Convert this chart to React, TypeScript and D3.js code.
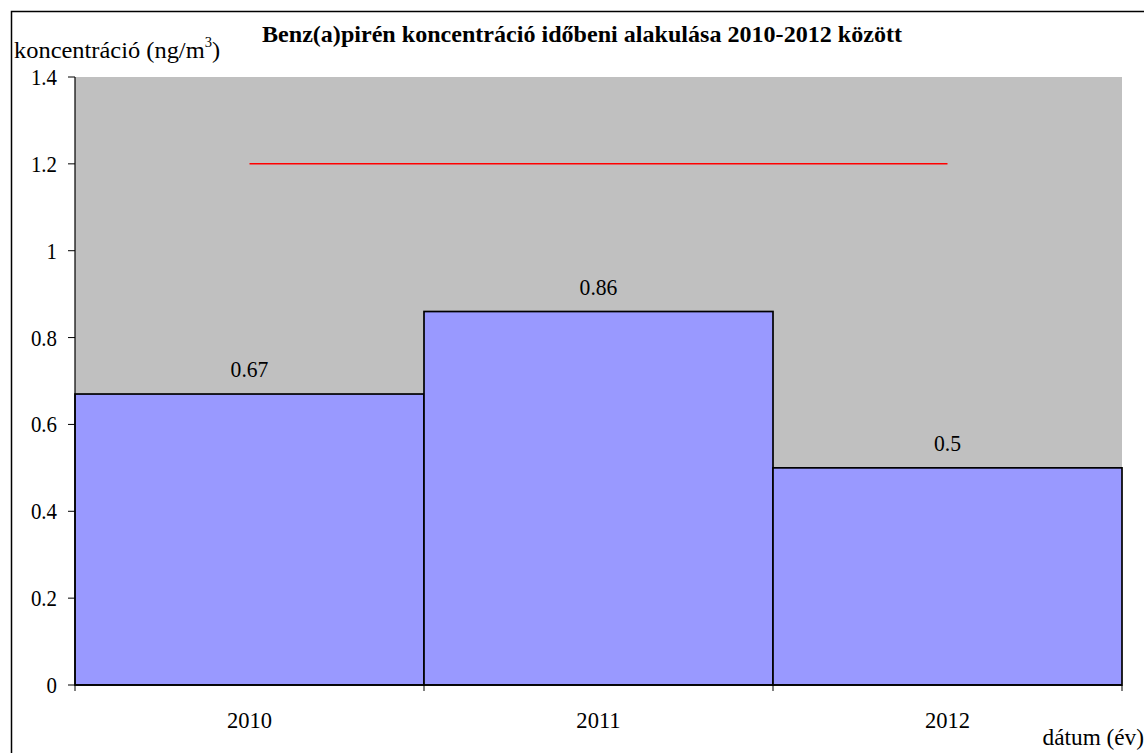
import React from "react";
import * as d3 from "d3";

const categories = ["2010", "2011", "2012"];
const values = [0.67, 0.86, 0.5];
const limitValues = [1.2, 1.2, 1.2];
const yTicks = [0, 0.2, 0.4, 0.6, 0.8, 1, 1.2, 1.4];

const W = 1144;
const H = 753;
const left = 75;
const right = 1122;
const top = 77;
const bottom = 685;
const font = "Liberation Serif";

type TProps = {
  x: number;
  y: number;
  anchor?: "start" | "middle" | "end";
  size?: number;
  sx?: number;
  bold?: boolean;
  children: React.ReactNode;
};

function T({ x, y, anchor = "start", size = 24, sx = 0.9, bold = false, children }: TProps) {
  return (
    <text
      transform={`translate(${x},${y}) scale(${sx},1)`}
      textAnchor={anchor}
      fontSize={size}
      fontWeight={bold ? "bold" : "normal"}
      style={{ fontFamily: font }}
      fill="#000"
    >
      {children}
    </text>
  );
}

export default function App() {
  const x = d3.scaleBand<string>().domain(categories).range([left, right]).padding(0);
  const y = d3.scaleLinear().domain([0, 1.4]).range([bottom, top]);
  const cx = (c: string) => (x(c) as number) + x.bandwidth() / 2;
  const line = d3
    .line<number>()
    .x((_, i) => cx(categories[i]))
    .y((d) => y(d));
  const boundaries = [...categories.map((c) => x(c) as number), right];

  return (
    <div style={{ position: "fixed", left: 0, top: 0 }}>
      <svg width={W} height={H} style={{ display: "block", background: "#fff" }}>
        <rect x={11.5} y={11.5} width={W + 20} height={H + 20} fill="none" stroke="#000" strokeWidth={1.5} />
        <text
          x={582}
          y={42}
          textAnchor="middle"
          fontSize={24}
          fontWeight="bold"
          style={{ fontFamily: font }}
          textLength={640}
          lengthAdjust="spacingAndGlyphs"
        >
          Benz(a)pirén koncentráció időbeni alakulása 2010-2012 között
        </text>
        <text transform="translate(14,58) scale(1.04,1)" fontSize={23.5} style={{ fontFamily: font }}>
          koncentráció (ng/m
          <tspan dy={-11} fontSize={14}>3</tspan>
          <tspan dy={11}>)</tspan>
        </text>
        <rect x={left} y={top} width={right - left} height={bottom - top} fill="#C0C0C0" />
        {categories.map((c, i) => (
          <rect
            key={c}
            x={x(c) as number}
            y={y(values[i])}
            width={x.bandwidth()}
            height={bottom - y(values[i])}
            fill="#9999FF"
            stroke="#000"
            strokeWidth={1.7}
          />
        ))}
        <path d={line(limitValues) || ""} fill="none" stroke="#FF0000" strokeWidth={1.5} />
        {categories.map((c, i) => (
          <T key={c} x={cx(c)} y={y(values[i]) - 17} anchor="middle">
            {values[i]}
          </T>
        ))}
        <line x1={left} x2={left} y1={top} y2={bottom} stroke="#000" strokeWidth={1.2} />
        {yTicks.map((t) => (
          <g key={t}>
            <line x1={left - 7} x2={left} y1={y(t)} y2={y(t)} stroke="#000" strokeWidth={1} />
            <T x={left - 18} y={y(t) + 8} anchor="end" sx={0.87}>
              {t}
            </T>
          </g>
        ))}
        <line x1={left} x2={right} y1={bottom} y2={bottom} stroke="#000" strokeWidth={1.5} />
        {boundaries.map((b, i) => (
          <line key={i} x1={b} x2={b} y1={bottom} y2={bottom + 6} stroke="#000" strokeWidth={1} />
        ))}
        {categories.map((c) => (
          <T key={c} x={cx(c)} y={728} anchor="middle" sx={0.94}>
            {c}
          </T>
        ))}
        <T x={1144} y={745} anchor="end" sx={0.97}>
          dátum (év)
        </T>
      </svg>
    </div>
  );
}
